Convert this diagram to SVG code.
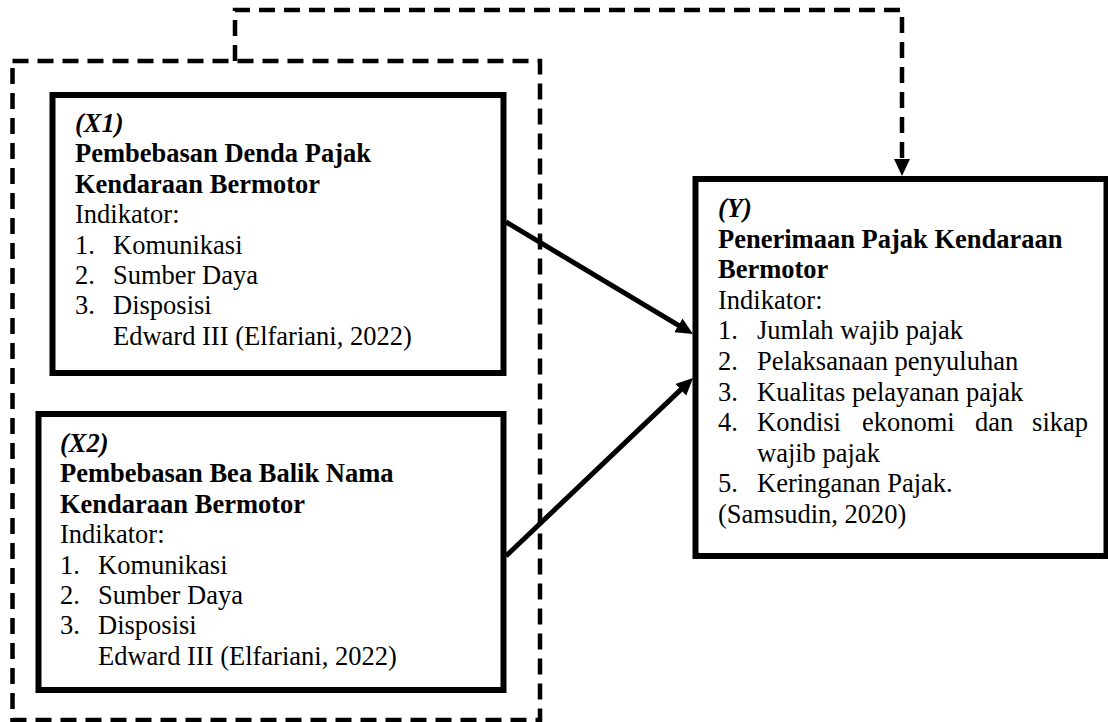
<svg xmlns="http://www.w3.org/2000/svg" width="1108" height="722" viewBox="0 0 1108 722">
<style>
.box{fill:#fff;stroke:#000;stroke-width:6}
.dash{fill:none;stroke:#000;stroke-width:4.5;stroke-dasharray:16 9}
.arr{fill:none;stroke:#000;stroke-width:5}
text{font-family:"Liberation Serif","Times New Roman",serif;font-size:26.5px;fill:#000}
.b{font-weight:bold}
.bi{font-weight:bold;font-style:italic}
</style>
<defs>
<marker id="ah" markerUnits="userSpaceOnUse" markerWidth="20" markerHeight="18" refX="7" refY="8" orient="auto">
<path d="M0,0 L17,8 L0,16 Z" fill="#000"/>
</marker>
</defs>
<rect x="0" y="0" width="1108" height="722" fill="#fff"/>
<g id="group-boundary">
<rect class="dash" x="12.5" y="61" width="527.5" height="659"/>
</g>
<g id="node-x1">
<rect class="box" x="52.5" y="95" width="451" height="278"/>
<text x="75" y="132" class="bi">(X1)</text>
<text x="75" y="162.4" class="b">Pembebasan Denda Pajak</text>
<text x="75" y="192.8" class="b">Kendaraan Bermotor</text>
<text x="75" y="223.2">Indikator:</text>
<text x="75" y="253.6">1.</text><text x="113" y="253.6">Komunikasi</text>
<text x="75" y="284">2.</text><text x="113" y="284">Sumber Daya</text>
<text x="75" y="314.4">3.</text><text x="113" y="314.4">Disposisi</text>
<text x="113" y="344.8">Edward III (Elfariani, 2022)</text>
</g>
<g id="node-x2">
<rect class="box" x="38.5" y="414" width="465" height="276"/>
<text x="60" y="452" class="bi">(X2)</text>
<text x="60" y="482.4" class="b">Pembebasan Bea Balik Nama</text>
<text x="60" y="512.8" class="b">Kendaraan Bermotor</text>
<text x="60" y="543.2">Indikator:</text>
<text x="60" y="573.6">1.</text><text x="98" y="573.6">Komunikasi</text>
<text x="60" y="604">2.</text><text x="98" y="604">Sumber Daya</text>
<text x="60" y="634.4">3.</text><text x="98" y="634.4">Disposisi</text>
<text x="98" y="664.8">Edward III (Elfariani, 2022)</text>
</g>
<g id="node-y">
<rect class="box" x="695.5" y="179" width="411" height="377"/>
<text x="718" y="217" class="bi">(Y)</text>
<text x="718" y="247.6" class="b">Penerimaan Pajak Kendaraan</text>
<text x="718" y="278.2" class="b">Bermotor</text>
<text x="718" y="308.8">Indikator:</text>
<text x="718" y="339.4">1.</text><text x="757" y="339.4">Jumlah wajib pajak</text>
<text x="718" y="370">2.</text><text x="757" y="370">Pelaksanaan penyuluhan</text>
<text x="718" y="400.6">3.</text><text x="757" y="400.6">Kualitas pelayanan pajak</text>
<text x="718" y="431.2">4.</text><text y="431.2"><tspan x="757">Kondisi</tspan><tspan x="862">ekonomi</tspan><tspan x="975">dan</tspan><tspan x="1088" text-anchor="end">sikap</tspan></text>
<text x="757" y="461.8">wajib pajak</text>
<text x="718" y="492.4">5.</text><text x="757" y="492.4">Keringanan Pajak.</text>
<text x="718" y="523">(Samsudin, 2020)</text>
</g>
<g id="connectors">
<line class="arr" x1="506" y1="222" x2="684.4" y2="328.9" marker-end="url(#ah)"/>
<line class="arr" x1="506" y1="556" x2="685.8" y2="384.9" marker-end="url(#ah)"/>
<path class="dash" d="M235,61 V10 H902 V166" marker-end="url(#ah)"/>
</g>
</svg>
